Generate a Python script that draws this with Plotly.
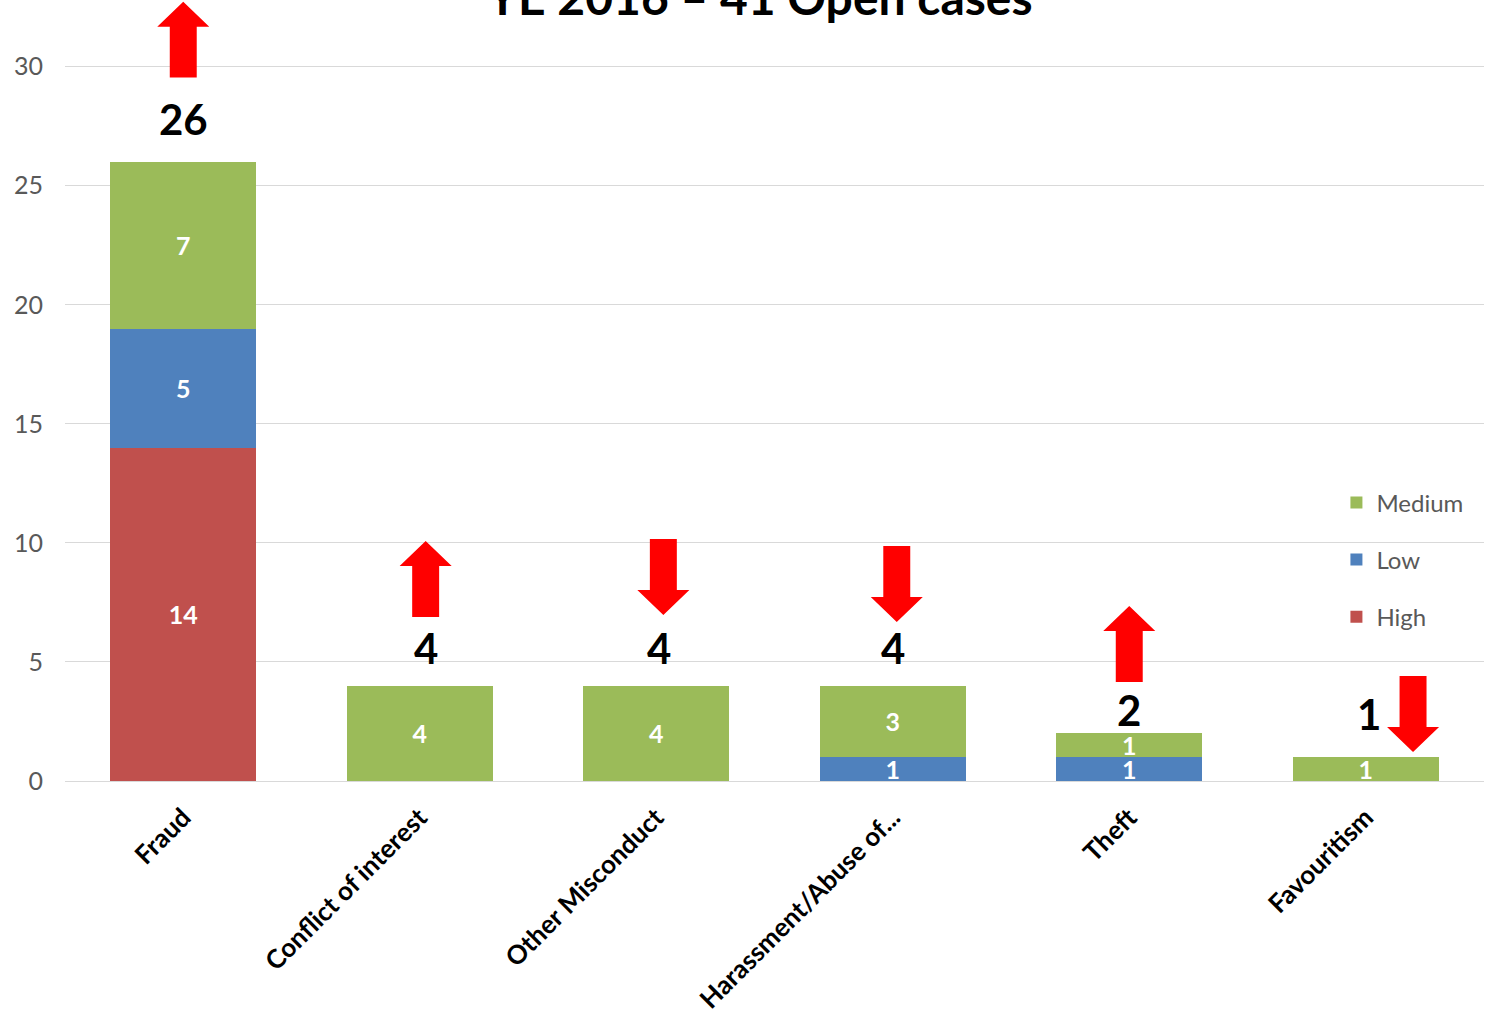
import plotly.graph_objects as go

# Case categories and open-case counts by risk level
categories = ["Fraud", "Conflict of interest", "Other Misconduct",
              "Harassment/Abuse of...", "Theft", "Favouritism"]
high = [14, 0, 0, 0, 0, 0]
low = [5, 0, 0, 1, 1, 0]
medium = [7, 4, 4, 3, 1, 1]
trend = ["up", "up", "down", "down", "up", "down"]

title_text = "YE 2016 \u2013 41 Open cases"
y_ticks = [0, 5, 10, 15, 20, 25, 30]

# Placement of total labels and trend arrows around each stack
total_offset = [1.8, 1.6, 1.6, 1.6, 1.0, 1.82]
total_dx = [0.0, 0.025, 0.01, 0.0, 0.0, 0.013]
arrow_dx = [0.0, 0.025, 0.03, 0.017, 0.0, 0.2]
arrow_gap = [3.54, 2.89, 2.97, 2.68, 2.16, 0.22]

FONT = "Lato"
GREEN, BLUE, RED = "#9BBB59", "#4F81BD", "#C0504D"
GRID = "#D9D9D9"

x = list(range(len(categories)))
totals = [h + l + m for h, l, m in zip(high, low, medium)]

fig = go.Figure()
for rank, (name, vals, col) in zip([3, 2, 1], [("High", high, RED), ("Low", low, BLUE), ("Medium", medium, GREEN)]):
    fig.add_trace(go.Bar(
        x=x, y=vals, name=name, marker=dict(color=col, line=dict(width=0)),
        text=[str(v) if v else "" for v in vals],
        textposition="inside", insidetextanchor="middle", constraintext="none",
        textangle=0,
        textfont=dict(family=FONT, size=25, color="white", weight="bold"),
        cliponaxis=False, legendgroup=name, legendrank=rank, hoverinfo="skip",
    ))

# Block arrows showing the trend of each category
L, H, HW, SW = 3.19, 1.05, 0.11, 0.057
for i, (t, tot) in enumerate(zip(trend, totals)):
    cx = i + arrow_dx[i]
    y0 = tot + arrow_gap[i]
    if t == "up":
        px = [cx - SW, cx + SW, cx + SW, cx + HW, cx, cx - HW, cx - SW, cx - SW]
        py = [y0, y0, y0 + L - H, y0 + L - H, y0 + L, y0 + L - H, y0 + L - H, y0]
    else:
        px = [cx, cx + HW, cx + SW, cx + SW, cx - SW, cx - SW, cx - HW, cx]
        py = [y0, y0 + H, y0 + H, y0 + L, y0 + L, y0 + H, y0 + H, y0]
    fig.add_trace(go.Scatter(
        x=px, y=py, mode="lines", fill="toself", fillcolor="#FF0000",
        line=dict(width=0, color="#FF0000"), showlegend=False, hoverinfo="skip",
    ))

for i, tot in enumerate(totals):
    fig.add_annotation(
        x=i + total_dx[i], y=tot + total_offset[i], text=str(tot), showarrow=False,
        xref="x", yref="y", yanchor="middle",
        font=dict(family=FONT, size=42, color="black", weight="bold"),
    )

fig.add_annotation(
    x=0.5, xref="paper", y=1, yref="paper", yanchor="bottom", yshift=-27, xshift=-15,
    text=title_text, showarrow=False,
    font=dict(family=FONT, size=48, color="black", weight="bold"),
)

fig.update_layout(
    width=1489, height=1016,
    margin=dict(l=65, r=5, t=0, b=235, autoexpand=False),
    paper_bgcolor="white", plot_bgcolor="white",
    barmode="stack", bargap=0.383,
    showlegend=True,
    legend=dict(
        x=0.896, y=0.385, xanchor="left", yanchor="top",
        traceorder="grouped", tracegroupgap=23,
        font=dict(family=FONT, size=24, color="#595959"),
        bgcolor="rgba(0,0,0,0)",
    ),
    xaxis=dict(
        range=[-0.5, 5.5], tickvals=x, ticktext=categories, tickangle=-45,
        tickfont=dict(family=FONT, size=26, color="black", weight="bold"),
        showgrid=False, zeroline=False, showline=True, linecolor=GRID, linewidth=1,
        ticks="", ticklabelstandoff=10, automargin=False,
    ),
    yaxis=dict(
        range=[0, 32.8], tickvals=y_ticks, showgrid=True, gridcolor=GRID, gridwidth=1,
        zeroline=False, showline=False, ticks="", ticklabelstandoff=21,
        tickfont=dict(family=FONT, size=25, color="#595959"), automargin=False,
    ),
)

fig.write_html("out.html")
